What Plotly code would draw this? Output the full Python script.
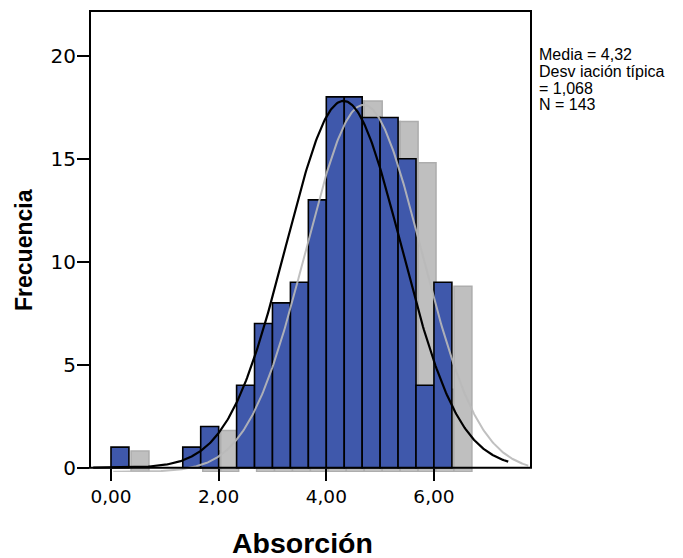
import numpy as np
import plotly.graph_objects as go

# Histogram of absorption values (bins of width 1/3 starting at 0)
bin_start = 0.0
bin_width = 1.0 / 3.0
counts = [1, 0, 0, 0, 1, 2, 0, 4, 7, 8, 9, 13, 18, 18, 17, 17, 15, 4, 9]

# Summary statistics shown in the side legend
mean_val = 4.32
sd_val = 1.068
n_obs = 143

# Extent of the fitted normal curve
curve_start = -0.33
curve_end = 7.38

# Drop-shadow offset (axis units)
shadow_dx = 0.372
shadow_dy = 0.194

x_tick_vals = [0, 2, 4, 6]
y_tick_vals = [0, 5, 10, 15, 20]

x_range = [-0.39, 7.803]
y_range = [-0.209, 22.17]

bar_blue = "#3f58ab"
shadow_fill = "#bfbfbf"
shadow_edge = "#adadad"

centers = [bin_start + (i + 0.5) * bin_width for i in range(len(counts))]
filled = [(c, n) for c, n in zip(centers, counts) if n > 0]
bx = [c for c, _ in filled]
by = [n for _, n in filled]

xs = np.linspace(curve_start, curve_end, 400)
scale = n_obs * bin_width
ys = scale * np.exp(-0.5 * ((xs - mean_val) / sd_val) ** 2) / (sd_val * np.sqrt(2 * np.pi))

fig = go.Figure()

# grey drop shadow behind the bars
fig.add_trace(go.Bar(
    x=[c + shadow_dx for c in bx], y=by, base=-shadow_dy, width=bin_width,
    marker=dict(color=shadow_fill, line=dict(color=shadow_edge, width=1.5)),
    hoverinfo="skip", showlegend=False,
))
# histogram bars
fig.add_trace(go.Bar(
    x=bx, y=by, width=bin_width,
    marker=dict(color=bar_blue, line=dict(color="black", width=1.6)),
    showlegend=False,
))
# shadow of the normal curve
fig.add_trace(go.Scatter(
    x=xs + shadow_dx, y=ys - shadow_dy, mode="lines",
    line=dict(color="rgba(185,185,185,0.9)", width=2),
    hoverinfo="skip", showlegend=False,
))
# normal curve
fig.add_trace(go.Scatter(
    x=xs, y=ys, mode="lines",
    line=dict(color="black", width=2.2),
    showlegend=False,
))

plot_h = 461.0
base_pos = (0 - y_range[0]) / (y_range[1] - y_range[0])

tick_font = dict(family="DejaVu Sans, Liberation Sans, Arial, sans-serif", size=18.5, color="black")
title_font = dict(family="Liberation Sans, Arial, sans-serif", size=28.5, color="black", weight="bold")

fig.update_layout(
    width=683, height=558,
    margin=dict(l=90, r=152, t=11, b=86),
    paper_bgcolor="white", plot_bgcolor="white",
    barmode="overlay",
    separators=",.",
    xaxis=dict(
        range=x_range, anchor="free", position=base_pos,
        showline=False, showgrid=False, zeroline=False,
        ticks="outside", ticklen=12, tickwidth=2, tickcolor="black",
        tickvals=x_tick_vals, tickformat=".2f", tickfont=tick_font,
        ticklabelstandoff=0,
    ),
    yaxis=dict(
        range=y_range, domain=[0, 1],
        showline=False, showgrid=False, zeroline=False,
        ticks="outside", ticklen=12, tickwidth=2, tickcolor="black",
        tickvals=y_tick_vals, tickfont=dict(tick_font, size=20),
        ticklabelstandoff=-3,
    ),
    shapes=[dict(
        type="rect", xref="paper", yref="paper",
        x0=0, x1=1, y0=base_pos, y1=1,
        line=dict(color="black", width=2), layer="above",
    )],
)

def py(pix):
    return (472.0 - pix) / plot_h

def px(pix):
    return (pix - 90.0) / 441.0

annotations = [
    dict(text="Absorción", x=px(302), y=py(543), xref="paper", yref="paper",
         xanchor="center", yanchor="middle", showarrow=False, font=title_font),
    dict(text="Frecuencia", x=px(24), y=py(250), xref="paper", yref="paper",
         xanchor="center", yanchor="middle", textangle=-90, showarrow=False,
         font=dict(title_font, size=23)),
]

stat_lines = [
    "Media = " + f"{mean_val:.2f}".replace(".", ","),
    "Desv iación típica",
    "= " + f"{sd_val:.3f}".replace(".", ","),
    "N = " + str(n_obs),
]
stat_centers = [55, 71.5, 88, 104.5]
stat_font = dict(family="Liberation Sans, Arial, sans-serif", size=16, color="black")
for line, cy in zip(stat_lines, stat_centers):
    annotations.append(dict(
        text=line, x=px(537), y=py(cy), xref="paper", yref="paper",
        xanchor="left", yanchor="middle", showarrow=False, font=stat_font,
    ))

fig.update_layout(annotations=annotations)

fig.write_html("out.html")
